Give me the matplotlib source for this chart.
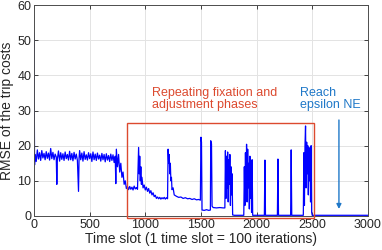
import matplotlib
matplotlib.use('Agg')
import matplotlib.pyplot as plt
from matplotlib.patches import Rectangle

plt.rcParams['font.family'] = ['Liberation Sans', 'DejaVu Sans']

# (time slot, RMSE) samples, split by phase
start_phase = [
    (0, 52.0), (5, 14.5), (10, 17.5), (20, 15.5), (30, 18.8), (40, 16.2), (50, 18.0),
    (60, 15.8), (70, 18.6), (80, 16.5), (90, 17.8), (100, 16.0), (110, 18.3), (120, 16.4),
    (130, 17.9), (140, 15.9), (150, 19.2), (160, 16.3), (170, 18.1), (180, 16.0),
    (190, 17.6), (200, 16.8), (205, 9.0), (210, 16.2), (220, 18.5), (230, 15.6),
    (240, 18.0), (250, 16.1), (260, 17.7), (270, 15.8), (280, 18.2), (290, 16.3),
    (300, 17.5), (310, 15.9), (320, 18.4), (330, 16.0), (340, 17.8), (350, 15.7),
    (360, 18.1), (370, 16.2), (380, 17.6), (390, 15.8), (400, 7.0), (405, 16.5),
    (410, 18.6), (420, 16.0), (430, 17.9), (440, 15.6), (450, 18.3), (460, 16.1),
    (470, 17.4), (480, 15.9), (490, 18.0), (500, 16.3), (510, 17.7), (520, 15.5),
    (530, 18.2), (540, 16.0), (550, 17.6), (560, 15.8), (570, 17.9), (580, 16.2),
    (590, 17.3), (600, 15.6), (610, 17.8), (620, 16.0), (630, 17.5), (640, 15.4),
    (650, 17.7), (660, 15.9), (670, 17.2), (680, 15.5), (690, 17.6), (700, 15.8),
    (710, 17.4), (720, 15.2), (730, 17.0), (735, 9.2), (740, 19.0), (750, 14.0),
    (760, 17.5), (770, 12.5), (780, 15.0), (790, 11.0), (800, 12.5), (810, 9.0),
    (820, 10.0),
]
slow_phase = [
    (830, 7.8), (840, 8.4), (850, 7.5), (860, 8.4), (870, 7.6), (880, 8.2), (890, 7.4),
    (900, 8.5), (910, 7.7), (920, 8.1), (930, 7.6), (940, 19.5), (945, 12.0), (950, 17.0),
    (955, 10.0), (960, 14.0), (965, 9.0), (970, 11.0), (980, 8.0), (990, 8.8), (1000, 7.4),
    (1010, 8.2), (1020, 7.0), (1030, 7.8), (1040, 6.5), (1050, 7.2), (1060, 6.0),
    (1070, 6.6), (1080, 5.5), (1090, 5.9), (1100, 5.0), (1110, 5.4), (1120, 4.9),
    (1130, 5.3), (1140, 4.8), (1150, 5.2), (1160, 4.9), (1170, 5.3), (1180, 4.8),
    (1190, 5.2), (1200, 4.9), (1205, 19.0), (1210, 15.0), (1215, 17.5), (1220, 12.0),
    (1225, 15.0), (1230, 10.0), (1235, 11.0), (1240, 7.5), (1250, 8.0), (1260, 6.0),
    (1270, 5.8), (1280, 5.6), (1300, 5.3), (1320, 5.4), (1340, 5.0), (1360, 5.2),
    (1380, 4.9), (1400, 5.0), (1420, 4.7), (1440, 4.9), (1460, 4.6), (1480, 4.7),
    (1495, 4.5),
]
spike_phase = [
    (1500, 22.4), (1505, 21.0), (1510, 1.7), (1530, 1.6), (1550, 1.8), (1570, 1.6),
    (1585, 1.7), (1588, 21.4), (1595, 20.5), (1600, 2.8), (1610, 2.4), (1640, 2.3),
    (1670, 2.4), (1700, 2.3), (1715, 2.3), (1720, 18.6), (1725, 5.0), (1730, 17.0),
    (1735, 8.0), (1740, 18.2), (1745, 4.0), (1750, 16.0), (1755, 9.0), (1760, 17.5),
    (1765, 3.0), (1770, 14.0), (1775, 6.0), (1780, 12.0), (1785, 0.3), (1800, 0.2),
    (1840, 0.2), (1885, 0.2), (1890, 14.0), (1895, 3.0), (1900, 18.0), (1905, 6.0),
    (1910, 20.4), (1915, 4.0), (1920, 19.0), (1925, 8.0), (1930, 15.0), (1935, 2.0),
    (1940, 17.0), (1945, 5.0), (1950, 12.0), (1955, 1.0), (1960, 16.0), (1965, 0.2),
    (2000, 0.2), (2040, 0.2), (2070, 0.2), (2075, 15.9), (2080, 0.2), (2120, 0.2),
    (2160, 0.2), (2187, 0.2), (2192, 16.2), (2197, 0.2), (2240, 0.2), (2280, 0.2),
    (2306, 0.2), (2311, 18.8), (2316, 0.2), (2360, 0.2), (2400, 0.2), (2420, 0.2),
    (2425, 18.0), (2430, 3.0), (2435, 20.0), (2440, 25.6), (2445, 8.0), (2450, 21.0),
    (2455, 12.0), (2460, 20.0), (2465, 6.0), (2470, 19.5), (2475, 10.0), (2480, 18.0),
    (2485, 4.0), (2490, 20.0), (2495, 1.0),
]
end_phase = [(2500, 0.2), (2750, 0.2), (3000, 0.2)]

x_ticks = [0, 500, 1000, 1500, 2000, 2500, 3000]
y_ticks = [0, 10, 20, 30, 40, 50, 60]

red = '#DC4A2F'
blue = '#1F78C8'

samples = start_phase + slow_phase + spike_phase + end_phase
time_slot = [p[0] for p in samples]
rmse = [p[1] for p in samples]

fig = plt.figure(figsize=(3.82, 2.5), dpi=100)
ax = fig.add_axes([0.089, 0.136, 0.874, 0.844])

ax.plot(time_slot, rmse, color='blue', linewidth=0.9)

# box around the fixation / adjustment phases
ax.add_patch(Rectangle((833, -0.6), 2518 - 833, 27.1, fill=False,
                       edgecolor=red, linewidth=1.0, clip_on=False, zorder=3))
ax.text(1063, 33.2, 'Repeating fixation and\nadjustment phases', color=red,
        fontsize=9, va='center', ha='left', linespacing=1.0)
ax.text(2389, 33.3, 'Reach\nepsilon NE', color=blue,
        fontsize=9, va='center', ha='left', linespacing=1.0)
ax.annotate('', xy=(2740, 2.0), xytext=(2740, 27.3),
            arrowprops=dict(arrowstyle='-|>', color=blue, lw=1.0,
                            mutation_scale=7, shrinkA=0, shrinkB=0))

ax.set_xlim(0, 3000)
ax.set_ylim(0, 60)
ax.set_xticks(x_ticks)
ax.set_yticks(y_ticks)
ax.tick_params(direction='in', length=3, width=0.6, top=True, right=True,
               labelsize=9, colors='#262626', pad=2)
ax.grid(True, color='#E3E3E3', linewidth=0.7)
ax.set_axisbelow(True)
for s in ax.spines.values():
    s.set_color('#4D4D4D')
    s.set_linewidth(0.7)

ax.set_xlabel('Time slot (1 time slot = 100 iterations)', fontsize=10,
              color='#262626', labelpad=1)
ax.set_ylabel('RMSE of the trip costs', fontsize=10, color='#262626', labelpad=2)

fig.savefig('out.png', dpi=100)
